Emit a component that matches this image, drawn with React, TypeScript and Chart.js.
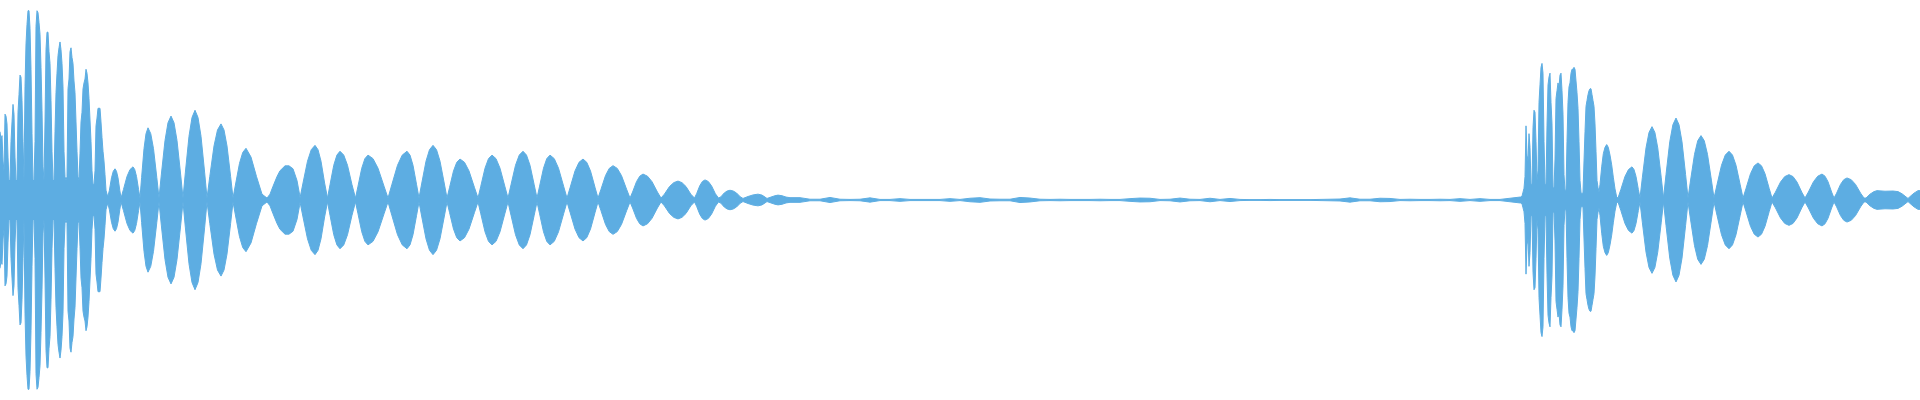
import React, { useEffect, useRef } from "react";
import { Chart, registerables } from "chart.js";

Chart.register(...registerables);

const CLIP_LENGTH = 1920;
const LEVEL_LIMIT = 102.5;
const WAVE_COLOR = "#5DADE2";

// First burst, attack: one reading per time step from t = 0
const attackOneLevels: number[] = [
  35, 31, 33, 20, 15, 44, 43, 39, 22, 10,
  10, 30, 40, 49, 44, 22, 10, 10, 45, 54,
  64, 63, 51, 30, 10, 58, 80, 90, 97, 97,
  88, 67, 34, 10, 10, 30, 89, 97, 96, 91,
  85, 68, 46, 17, 10, 40, 77, 86, 86, 76,
  70, 51, 25, 10, 10, 35, 55, 65, 74, 78,
  81, 77, 70, 58, 25, 12, 10, 12, 57, 62,
  76, 78, 73, 70, 61, 55, 40, 25, 12, 10,
  24, 40, 45, 57, 60, 62, 67, 65, 60, 52,
  41, 30, 15, 8, 8, 15, 38, 42, 47, 47,
  47, 40, 32, 25, 20, 13, 5, 3,
];

// First burst, decay: [time, level]
const decayOne: [number, number][] = [
  [108, 2],
  [109.4, 5], [111.5, 11.4], [113.25, 14.7], [115, 16], [116.5, 14.7], [118, 11.4], [119.8, 5], [121, 1],
  [123.4, 5.3], [127, 12.1], [130, 15.6], [133, 17], [134.75, 15.6], [136.5, 12.1], [138.6, 5.3], [140, 1],
  [141.6, 11.5], [144, 26.3], [146, 34], [148, 37], [150.75, 34], [153.5, 26.3], [156.8, 11.5], [159, 1],
  [161.4, 13.3], [165, 30.5], [168, 39.6], [171, 43], [174, 39.6], [177, 30.5], [180.6, 13.3], [183, 1],
  [185.4, 14.3], [189, 32.7], [192, 42.3], [195, 46], [198, 42.3], [201, 32.7], [204.6, 14.3], [207, 1],
  [209.8, 12.1], [214, 27.7], [217.5, 35.9], [221, 39], [224, 35.9], [227, 27.7], [230.6, 12.1], [233, 1],
  [235.6, 8.2], [239.5, 18.8], [242.75, 24.4], [246, 26.5], [251, 22], [256.5, 12], [262, 3], [267, 1],
  [270, 3], [273, 7], [277, 12], [280, 15], [285, 17.5], [289, 17.5], [293, 16], [297, 10], [299.5, 3], [300, 1],
  [303, 8.7], [307.5, 19.9], [311.25, 25.8], [315, 28], [318, 25.8], [321, 19.9], [324.6, 8.7], [327.5, 1],
  [330, 7.8], [333.75, 17.8], [336.9, 23], [340, 25], [343.75, 23], [347.5, 17.8], [352, 7.8], [355.5, 1],
  [358, 7.1], [361.75, 16.3], [364.9, 21.2], [368, 23], [373, 21.2], [378, 16.3], [384, 7.1], [388, 1],
  [391.8, 7.8], [397.5, 17.8], [402.25, 23], [407, 25], [410, 23], [413, 17.8], [416.6, 7.8], [419, 1],
  [421.8, 8.7], [426, 19.9], [429.5, 25.8], [433, 28], [436.5, 25.8], [440, 19.9], [444.2, 8.7], [447, 1],
  [449.6, 6.5], [453.5, 14.9], [456.75, 19.3], [460, 21], [464.5, 19.3], [469, 14.9], [474.4, 6.5], [478, 1],
  [480.8, 7.1], [485, 16.3], [488.5, 21.2], [492, 23], [496, 21.2], [500, 16.3], [504.8, 7.1], [508, 1],
  [511, 7.8], [515.5, 17.8], [519.25, 23], [523, 25], [526.5, 23], [530, 17.8], [534.2, 7.8], [537, 1],
  [539.6, 7.1], [543.5, 16.3], [546.75, 21.2], [550, 23], [554.25, 21.2], [558.5, 16.3], [563.6, 7.1], [567, 1],
  [570.2, 6.5], [575, 14.9], [579, 19.3], [583, 21], [586.75, 19.3], [590.5, 14.9], [595, 6.5], [598, 1],
  [601, 5.5], [605.5, 12.5], [609.25, 16.2], [613, 17.6], [617.25, 16.2], [621.5, 12.5], [626.6, 5.5], [630, 1],
  [632.6, 4.1], [636.5, 9.4], [639.75, 12.2], [643, 13.3], [647.5, 12.2], [652, 9.4], [657.4, 4.1], [661, 1],
  [664.4, 3], [669.5, 6.9], [673.75, 8.9], [678, 9.7], [682, 8.9], [686, 6.9], [690.8, 3], [694.5, 1],
  [696.6, 3.2], [699.75, 7.3], [702.4, 9.5], [705, 10.3], [708.25, 9.5], [711.5, 7.3], [715.4, 3.2], [718.5, 1],
  [720.8, 1.6], [724.25, 3.6], [727.1, 4.6], [730, 5], [733.25, 4.6], [736.5, 3.6], [740.4, 1.6], [743, 0.8],
  [748, 1.8], [753, 2.6], [758, 3], [762, 2.5], [765, 1.5], [767, 0.8],
  [771, 1.5], [775, 2.2], [778, 2.5], [782, 2.2], [786, 1.5],
];

// Near-silence between bursts: one reading every 10 steps from t = 790
const SILENCE_START = 790;
const SILENCE_STEP = 10;
const silenceLevels: number[] = [
  1.2, 1.2, 0.4, 0.4, 1.3, 0.4, 0.3, 0.4, 1.1, 0.3,
  0.3, 0.7, 0.3, 0.3, 0.3, 0.3, 0.7, 0.3, 0.9, 1.2,
  0.5, 0.4, 0.4, 1.3, 1.0, 0.4, 0.3, 0.4, 0.3, 0.3,
  0.3, 0.4, 0.3, 0.3, 0.7, 1.0, 0.9, 0.3, 0.4, 1.0,
  0.4, 0.3, 0.9, 0.3, 0.8, 0.3, 0.2, 0.2, 0.3, 0.2,
  0.2, 0.2, 0.2, 0.3, 0.4, 0.5, 1.1, 0.4, 0.4, 0.9,
  0.8, 0.3, 0.4, 0.3, 0.3, 0.4, 0.3, 0.7, 0.3, 0.7,
  0.3, 0.3, 0.9,
];

// Second burst, attack: one reading per time step from t = 1520
const ATTACK_TWO_START = 1520;
const attackTwoLevels: number[] = [
  1.5, 1.5, 2, 4, 6, 12, 38, 23, 20, 34,
  27, 8, 8, 37, 46, 45, 30, 10, 15, 50,
  59, 68, 70, 65, 30, 8, 8, 38, 59, 63,
  65, 50, 39, 6.5, 6, 21, 52, 56, 60, 58,
  64, 65, 56, 44, 13, 5, 5, 30, 50, 58,
  60, 65, 67, 67, 68, 67, 61, 55, 47, 30,
  10, 4, 3, 4, 20, 35, 48, 51, 54, 56,
  57, 57, 54, 51, 48, 39, 25, 10, 6.5, 4,
];

// Second burst, decay: [time, level]
const decayTwo: [number, number][] = [
  [1600, 8], [1601.7, 17], [1603.3, 23.7], [1605, 27], [1606.7, 28.4], [1608.3, 27], [1610, 23], [1611.7, 18], [1613.3, 11.7], [1615, 5.7], [1616.7, 1.5], [1618, 1],
  [1620.8, 5.3], [1625, 12.1], [1628.5, 15.6], [1632, 17], [1634, 15.6], [1636, 12.1], [1638.4, 5.3], [1640, 1],
  [1642.4, 11.7], [1646, 26.7], [1649, 34.6], [1652, 37.6], [1654.9, 34.6], [1657.75, 26.7], [1661.2, 11.7], [1663.5, 1],
  [1666, 13], [1669.75, 29.8], [1672.9, 38.6], [1676, 42], [1679, 38.6], [1682, 29.8], [1685.6, 13], [1688, 1],
  [1690.6, 10.2], [1694.5, 23.4], [1697.75, 30.4], [1701, 33], [1704.25, 30.4], [1707.5, 23.4], [1711.4, 10.2], [1714, 1],
  [1717, 7.8], [1721.5, 17.8], [1725.25, 23], [1729, 25], [1732.5, 23], [1736, 17.8], [1740.2, 7.8], [1743, 1],
  [1746, 5.9], [1750.5, 13.5], [1754.25, 17.5], [1758, 19], [1761.5, 17.5], [1765, 13.5], [1769.2, 5.9], [1772, 1],
  [1775.4, 4], [1780.5, 9.2], [1784.75, 12], [1789, 13], [1793, 12], [1797, 9.2], [1801.8, 4], [1805, 1],
  [1808.4, 4.1], [1813.5, 9.4], [1817.75, 12.2], [1822, 13.3], [1825, 12.2], [1828, 9.4], [1831.6, 4.1], [1834, 1],
  [1836.6, 3.5], [1840.5, 8], [1843.75, 10.4], [1847, 11.3], [1851.25, 10.4], [1855.5, 8], [1860.6, 3.5], [1864, 1],
  [1866, 1], [1870, 3], [1874, 4.3], [1877, 4.8], [1885, 4.5], [1893, 4.6], [1898, 4.3], [1902, 3.2], [1905, 2], [1908, 0.8],
  [1911, 2.2], [1914, 3.5], [1918, 4.8], [1920, 4.8],
];

function buildEnvelope(): { x: number; y: number }[] {
  const pts: { x: number; y: number }[] = [];
  attackOneLevels.forEach((v, i) => pts.push({ x: i, y: v }));
  decayOne.forEach(([t, v]) => pts.push({ x: t, y: v }));
  silenceLevels.forEach((v, i) => pts.push({ x: SILENCE_START + i * SILENCE_STEP, y: v }));
  attackTwoLevels.forEach((v, i) => pts.push({ x: ATTACK_TWO_START + i, y: v }));
  decayTwo.forEach(([t, v]) => pts.push({ x: t, y: v }));
  return pts;
}

export default function App() {
  const canvasRef = useRef<HTMLCanvasElement | null>(null);

  useEffect(() => {
    document.body.style.margin = "0";
    const canvas = canvasRef.current;
    if (!canvas) return;
    const upper = buildEnvelope();
    const lower = upper.map((p) => ({ x: p.x, y: -p.y }));
    const chart = new Chart(canvas, {
      type: "line",
      data: {
        datasets: [
          {
            label: "upper",
            data: upper,
            borderColor: WAVE_COLOR,
            backgroundColor: WAVE_COLOR,
            borderWidth: 1,
            pointRadius: 0,
            tension: 0,
            fill: "origin",
          },
          {
            label: "lower",
            data: lower,
            borderColor: WAVE_COLOR,
            backgroundColor: WAVE_COLOR,
            borderWidth: 1,
            pointRadius: 0,
            tension: 0,
            fill: "origin",
          },
        ],
      },
      options: {
        animation: false,
        responsive: false,
        devicePixelRatio: 1,
        parsing: false,
        layout: { padding: 0 },
        plugins: {
          legend: { display: false },
          tooltip: { enabled: false },
        },
        scales: {
          x: { type: "linear", min: 0, max: CLIP_LENGTH, display: false },
          y: { type: "linear", min: -LEVEL_LIMIT, max: LEVEL_LIMIT, display: false },
        },
      },
    });
    return () => chart.destroy();
  }, []);

  return (
    <div style={{ width: 1920, height: 400 }}>
      <canvas ref={canvasRef} width={1920} height={400} style={{ display: "block" }} />
    </div>
  );
}
